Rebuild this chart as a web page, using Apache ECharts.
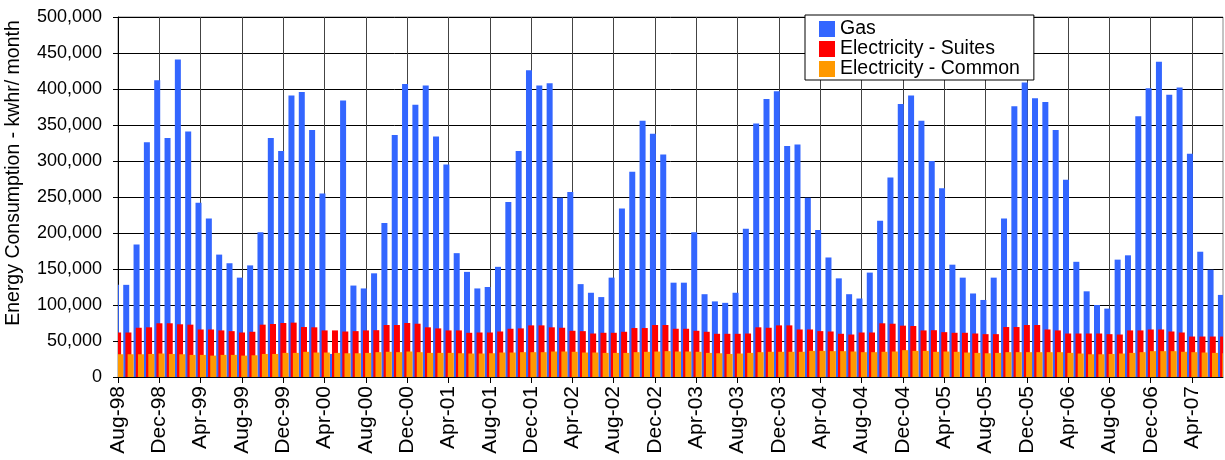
<!DOCTYPE html>
<html>
<head>
<meta charset="utf-8">
<script src="https://cdn.jsdelivr.net/npm/echarts@6.0.0/dist/echarts.min.js"></script>
<style>
  html, body { margin: 0; padding: 0; background: #fff; }
  #chart { width: 1225px; height: 460px; }
</style>
</head>
<body>
<div id="chart"></div>
<script>
const categories = [
  'Aug-98','Sep-98','Oct-98','Nov-98','Dec-98',
  'Jan-99','Feb-99','Mar-99','Apr-99','May-99','Jun-99','Jul-99','Aug-99','Sep-99','Oct-99','Nov-99','Dec-99',
  'Jan-00','Feb-00','Mar-00','Apr-00','May-00','Jun-00','Jul-00','Aug-00','Sep-00','Oct-00','Nov-00','Dec-00',
  'Jan-01','Feb-01','Mar-01','Apr-01','May-01','Jun-01','Jul-01','Aug-01','Sep-01','Oct-01','Nov-01','Dec-01',
  'Jan-02','Feb-02','Mar-02','Apr-02','May-02','Jun-02','Jul-02','Aug-02','Sep-02','Oct-02','Nov-02','Dec-02',
  'Jan-03','Feb-03','Mar-03','Apr-03','May-03','Jun-03','Jul-03','Aug-03','Sep-03','Oct-03','Nov-03','Dec-03',
  'Jan-04','Feb-04','Mar-04','Apr-04','May-04','Jun-04','Jul-04','Aug-04','Sep-04','Oct-04','Nov-04','Dec-04',
  'Jan-05','Feb-05','Mar-05','Apr-05','May-05','Jun-05','Jul-05','Aug-05','Sep-05','Oct-05','Nov-05','Dec-05',
  'Jan-06','Feb-06','Mar-06','Apr-06','May-06','Jun-06','Jul-06','Aug-06','Sep-06','Oct-06','Nov-06','Dec-06',
  'Jan-07','Feb-07','Mar-07','Apr-07','May-07','Jun-07','Jul-07'
];

const gas = [
  128000,128000,184000,326000,412000,
  332000,441000,341000,242000,220000,170000,158000,138000,155000,201000,332000,314000,
  391000,396000,343000,255000,32000,384000,127000,123000,144000,214000,336000,407000,
  378000,405000,334000,295000,172000,146000,123000,125000,153000,243000,314000,426000,
  405000,408000,249000,257000,129000,117000,111000,138000,234000,285000,356000,338000,
  309000,131000,131000,201000,115000,105000,103000,117000,206000,352000,386000,397000,
  321000,323000,249000,204000,166000,137000,115000,109000,145000,217000,277000,379000,
  391000,356000,300000,262000,156000,138000,116000,107000,138000,220000,376000,409000,
  387000,382000,343000,274000,160000,119000,100000,95000,163000,169000,362000,401000,
  438000,392000,402000,310000,174000,149000,114000
];

const elecSuites = [
  61800,61800,68400,69000,74600,
  74600,73200,72700,66000,66000,64700,63700,61800,62800,72700,73600,75000,
  75500,69400,69000,64700,64700,63200,63700,64700,65000,72200,72200,75000,
  74000,69000,67500,64700,64700,61400,61800,61800,63200,67000,67500,71700,
  71700,69000,68400,64200,63700,60400,61400,61400,62800,68000,68000,72200,
  72200,67000,67000,64200,62800,60000,60000,60000,60400,69000,68400,71700,
  71700,66000,66000,63700,63200,60000,59000,61800,61800,74600,74000,71300,
  70800,64700,65000,62300,61400,61400,60400,59500,59500,69400,69400,72200,
  72200,66000,64700,60400,60400,60400,60400,59500,59000,64700,64700,66000,
  66000,63200,61800,56200,56200,56200,56200
];

const elecCommon = [
  31600,31600,31600,32000,32600,
  32000,31600,30700,30700,29700,30700,30700,29700,30200,32000,32000,33500,
  33500,35000,34000,34000,33500,33000,33000,33500,34500,35000,34500,35400,
  34500,33500,33500,33500,33000,32600,32600,33000,34000,34000,34500,34500,
  34500,35400,35400,35000,34000,34000,33500,33500,33500,34500,35000,35400,
  35900,35400,35400,35000,33500,33000,32000,32600,33500,34500,35000,35000,
  35000,35000,36300,36300,35900,35900,35400,34500,34500,35000,35400,37300,
  36300,36300,35000,35400,35000,34000,33500,33000,33500,34500,34500,34500,
  34500,34500,34500,33500,32600,31600,31600,32000,32600,33500,34500,35900,
  35900,35900,35000,34500,34000,33500,33000
];

const yTicks = { min: 0, max: 500000, interval: 50000 };
const seriesNames = ['Gas', 'Electricity - Suites', 'Electricity - Common'];
const yTitle = 'Energy Consumption - kwhr/ month';

const FONT = "'Liberation Sans', Arial, sans-serif";
const BAR_W = 6;
const chart = echarts.init(document.getElementById('chart'), null, { renderer: 'canvas' });

// Clustered, overlapping bars centred on each month; clipped to the plot area.
function barSeries(name, values, color, offset) {
  return {
    name: name,
    type: 'custom',
    clip: true,
    data: values.map(function (v, i) { return [i, v]; }),
    encode: { x: 0, y: 1 },
    itemStyle: { color: color },
    emphasis: { disabled: true },
    animation: false,
    renderItem: function (params, api) {
      const top = api.coord([api.value(0), api.value(1)]);
      const base = api.coord([api.value(0), 0]);
      return {
        type: 'rect',
        shape: { x: top[0] + offset - BAR_W / 2, y: top[1], width: BAR_W, height: base[1] - top[1] },
        style: { fill: color }
      };
    }
  };
}

chart.setOption({
  animation: false,
  textStyle: { fontFamily: FONT },
  grid: {
    left: 118, right: 2, top: 17, bottom: 83,
    show: true, borderColor: '#888', borderWidth: 1,
    outerBoundsMode: 'none'
  },
  legend: {
    orient: 'vertical',
    left: 805, top: 15,
    itemWidth: 16, itemHeight: 16, itemGap: 0,
    padding: [4, 14, 1, 14],
    backgroundColor: '#fff',
    borderColor: '#000', borderWidth: 1,
    icon: 'rect',
    textStyle: { fontSize: 19.5, lineHeight: 18, color: '#000', fontFamily: FONT },
    data: seriesNames
  },
  xAxis: {
    type: 'category',
    data: categories,
    boundaryGap: false,
    axisLine: { lineStyle: { color: '#000', width: 1 } },
    axisTick: { show: true, interval: 3, length: 6, lineStyle: { color: '#000' } },
    axisLabel: { interval: 3, rotate: 90, fontSize: 21, color: '#000', margin: 9, fontFamily: FONT },
    splitLine: { show: true, interval: 3, lineStyle: { color: '#444', width: 1 } }
  },
  yAxis: {
    type: 'value',
    min: yTicks.min, max: yTicks.max, interval: yTicks.interval,
    axisLine: { show: true, lineStyle: { color: '#000', width: 1 } },
    axisTick: { show: true, length: 5, lineStyle: { color: '#000' } },
    axisLabel: {
      fontSize: 18, color: '#000', margin: 16, fontFamily: FONT,
      formatter: function (v) { return v.toLocaleString('en-US'); }
    },
    splitLine: { show: true, lineStyle: { color: '#000', width: 1 } }
  },
  graphic: [{
    type: 'text',
    x: 13.5, y: 173,
    rotation: Math.PI / 2,
    style: {
      text: yTitle,
      fontSize: 19.5, fontFamily: FONT, fill: '#000',
      align: 'center', verticalAlign: 'middle',
      textAlign: 'center', textVerticalAlign: 'middle'
    }
  }],
  series: [
    barSeries(seriesNames[0], gas, '#3366ff', -2.1),
    barSeries(seriesNames[1], elecSuites, '#ff0000', 0.1),
    barSeries(seriesNames[2], elecCommon, '#ff9900', 2.3)
  ]
});
</script>
</body>
</html>
